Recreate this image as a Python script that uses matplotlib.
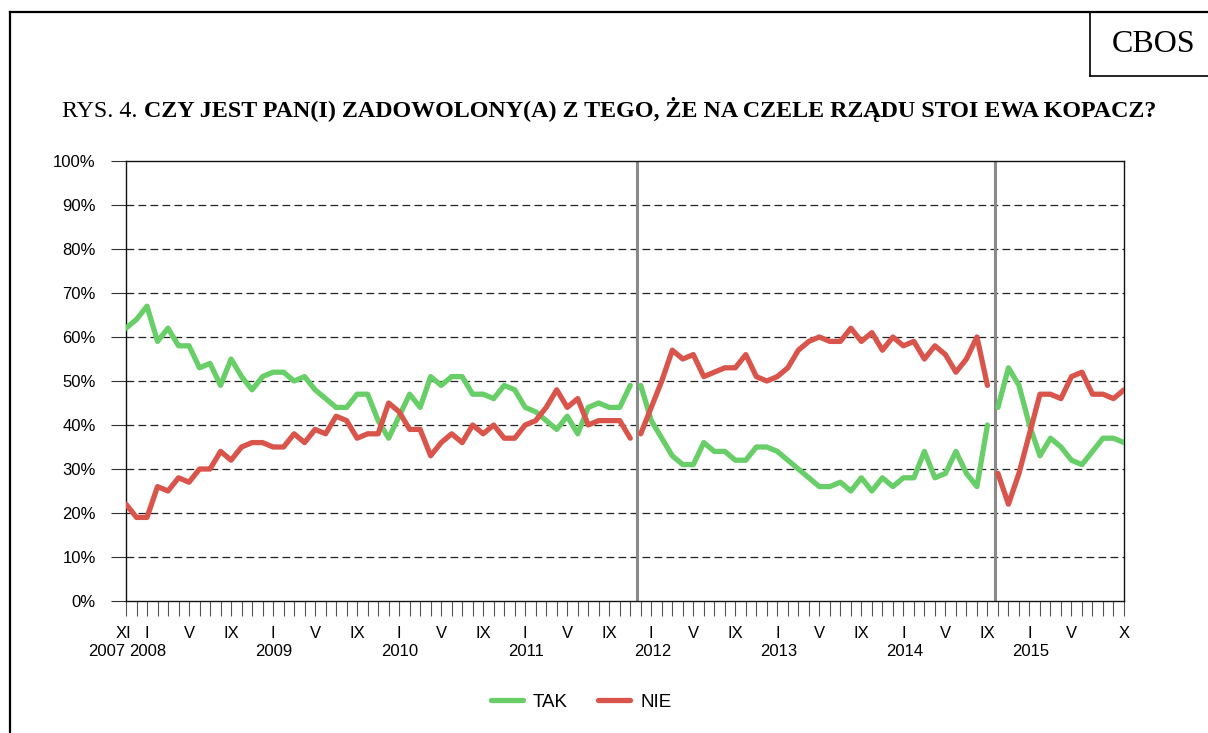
import matplotlib
matplotlib.use('Agg')
import matplotlib.pyplot as plt
import matplotlib.transforms as mtransforms
from matplotlib.lines import Line2D
import pandas as pd

# ---------------- data ----------------
months = pd.period_range('2007-11', '2015-10', freq='M')
roman = ['I', 'II', 'III', 'IV', 'V', 'VI', 'VII', 'VIII', 'IX', 'X', 'XI', 'XII']

tak = [62, 64, 67, 59, 62, 58, 58, 53, 54, 49, 55, 51, 48, 51, 52, 52, 50, 51, 48, 46,
       44, 44, 47, 47, 41, 37, 42, 47, 44, 51, 49, 51, 51, 47, 47, 46, 49, 48, 44, 43,
       41, 39, 42, 38, 44, 45, 44, 44, 49,
       49, 41, 37, 33, 31, 31, 36, 34, 34, 32, 32, 35, 35, 34, 32, 30, 28, 26, 26, 27,
       25, 28, 25, 28, 26, 28, 28, 34, 28, 29, 34, 29, 26, 40,
       44, 53, 49, 40, 33, 37, 35, 32, 31, 34, 37, 37, 36]
nie = [22, 19, 19, 26, 25, 28, 27, 30, 30, 34, 32, 35, 36, 36, 35, 35, 38, 36, 39, 38,
       42, 41, 37, 38, 38, 45, 43, 39, 39, 33, 36, 38, 36, 40, 38, 40, 37, 37, 40, 41,
       44, 48, 44, 46, 40, 41, 41, 41, 37,
       38, 44, 50, 57, 55, 56, 51, 52, 53, 53, 56, 51, 50, 51, 53, 57, 59, 60, 59, 59,
       62, 59, 61, 57, 60, 58, 59, 55, 58, 56, 52, 55, 60, 49,
       29, 22, 29, 38, 47, 47, 46, 51, 52, 47, 47, 46, 48]
segment_starts = [0, 49, 83]   # first survey of each period (series break)
series_names = ['TAK', 'NIE']
y_ticks = list(range(0, 101, 10))

# ---------------- style ----------------
GREEN = '#68CE68'
RED = '#D9544A'
W, H = 1208, 733
SANS = ['Liberation Sans', 'DejaVu Sans']
SERIF = ['Liberation Serif', 'DejaVu Serif']

def fx(px):
    return px / W

def fy(py):
    return 1 - py / H

fig = plt.figure(figsize=(W / 100, H / 100), dpi=100)
fig.patch.set_facecolor('white')

# outer frame & CBOS box
fig.add_artist(Line2D([fx(10), fx(10)], [fy(12), fy(740)], color='black', lw=1.6))
fig.add_artist(Line2D([fx(10), fx(1210)], [fy(12), fy(12)], color='black', lw=1.6))
fig.add_artist(Line2D([fx(1090), fx(1090)], [fy(12), fy(76)], color='black', lw=1.2))
fig.add_artist(Line2D([fx(1090), fx(1210)], [fy(76), fy(76)], color='black', lw=1.2))
fig.text(fx(1154), fy(44), 'CBOS', family=SERIF, fontsize=23, ha='center', va='center')

# title: regular prefix + bold rest
t1 = fig.text(fx(62), fy(117), 'RYS. 4. ', family=SERIF, fontsize=17.3, ha='left', va='baseline')
fig.canvas.draw()
bb = t1.get_window_extent()
fig.text(bb.x1 / W, fy(117), 'CZY JEST PAN(I) ZADOWOLONY(A) Z TEGO, ŻE NA CZELE RZĄDU STOI EWA KOPACZ?',
         family=SERIF, fontsize=17.3, fontweight='bold', ha='left', va='baseline')

# axes
ax = fig.add_axes([fx(126), fy(601), fx(1124) - fx(126), fy(161) - fy(601)])
n = len(months)
ax.set_xlim(0, n - 1)
ax.set_ylim(0, 100)

ax.set_yticks(y_ticks)
ax.set_yticklabels([f'{v}%' for v in y_ticks], family=SANS, fontsize=12)
ax.tick_params(axis='y', direction='out', length=10.8, width=0.8, pad=11, color='#333333')
ax.set_xticks(range(n))
ax.tick_params(axis='x', direction='out', length=10.8, width=0.8, color='#555555', labelbottom=False)

for v in y_ticks[1:-1]:
    ax.axhline(v, color='#222222', lw=0.9, dashes=(6.2, 3.4), zorder=1)

for sp in ax.spines.values():
    sp.set_linewidth(1.0)
    sp.set_color('#111111')

# series breaks
for b in [48.64, 82.73]:
    ax.axvline(b, color='#8A8A8A', lw=2.2, zorder=2)

ends = segment_starts[1:] + [n]
x_all = list(range(n))
for s, e in zip(segment_starts, ends):
    ax.plot(x_all[s:e], tak[s:e], color=GREEN, lw=3.8, solid_capstyle='round',
            solid_joinstyle='round', zorder=3)
    ax.plot(x_all[s:e], nie[s:e], color=RED, lw=3.8, solid_capstyle='round',
            solid_joinstyle='round', zorder=3)

# x labels (month roman numerals and years)
blend = mtransforms.blended_transform_factory(ax.transData, fig.transFigure)
for i, p in enumerate(months):
    lab = None
    if i == 0 or i == n - 1 or (p.month in (1, 5, 9) and i < n - 2):
        lab = roman[p.month - 1]
    if lab:
        dx = -3 if i == 0 else 0
        tr = mtransforms.offset_copy(blend, fig=fig, x=dx, y=0, units='dots')
        ax.text(i, fy(633), lab, transform=tr, ha='center', va='center',
                family=SANS, fontsize=12, clip_on=False)
    if i == 0 or p.month == 1:
        dx = -19 if i == 0 else 1
        tr = mtransforms.offset_copy(blend, fig=fig, x=dx, y=0, units='dots')
        ax.text(i, fy(651), str(p.year), transform=tr, ha='center', va='center',
                family=SANS, fontsize=12, clip_on=False)

# legend
handles = [Line2D([], [], color=GREEN, lw=3.8, solid_capstyle='round'),
           Line2D([], [], color=RED, lw=3.8, solid_capstyle='round')]
fig.legend(handles, series_names, loc='center', bbox_to_anchor=(fx(581), fy(702)), ncol=2,
           frameon=False, prop={'family': SANS, 'size': 13.5}, handlelength=1.7,
           handletextpad=0.55, columnspacing=1.6)

fig.savefig('out.png', dpi=100, facecolor='white')
